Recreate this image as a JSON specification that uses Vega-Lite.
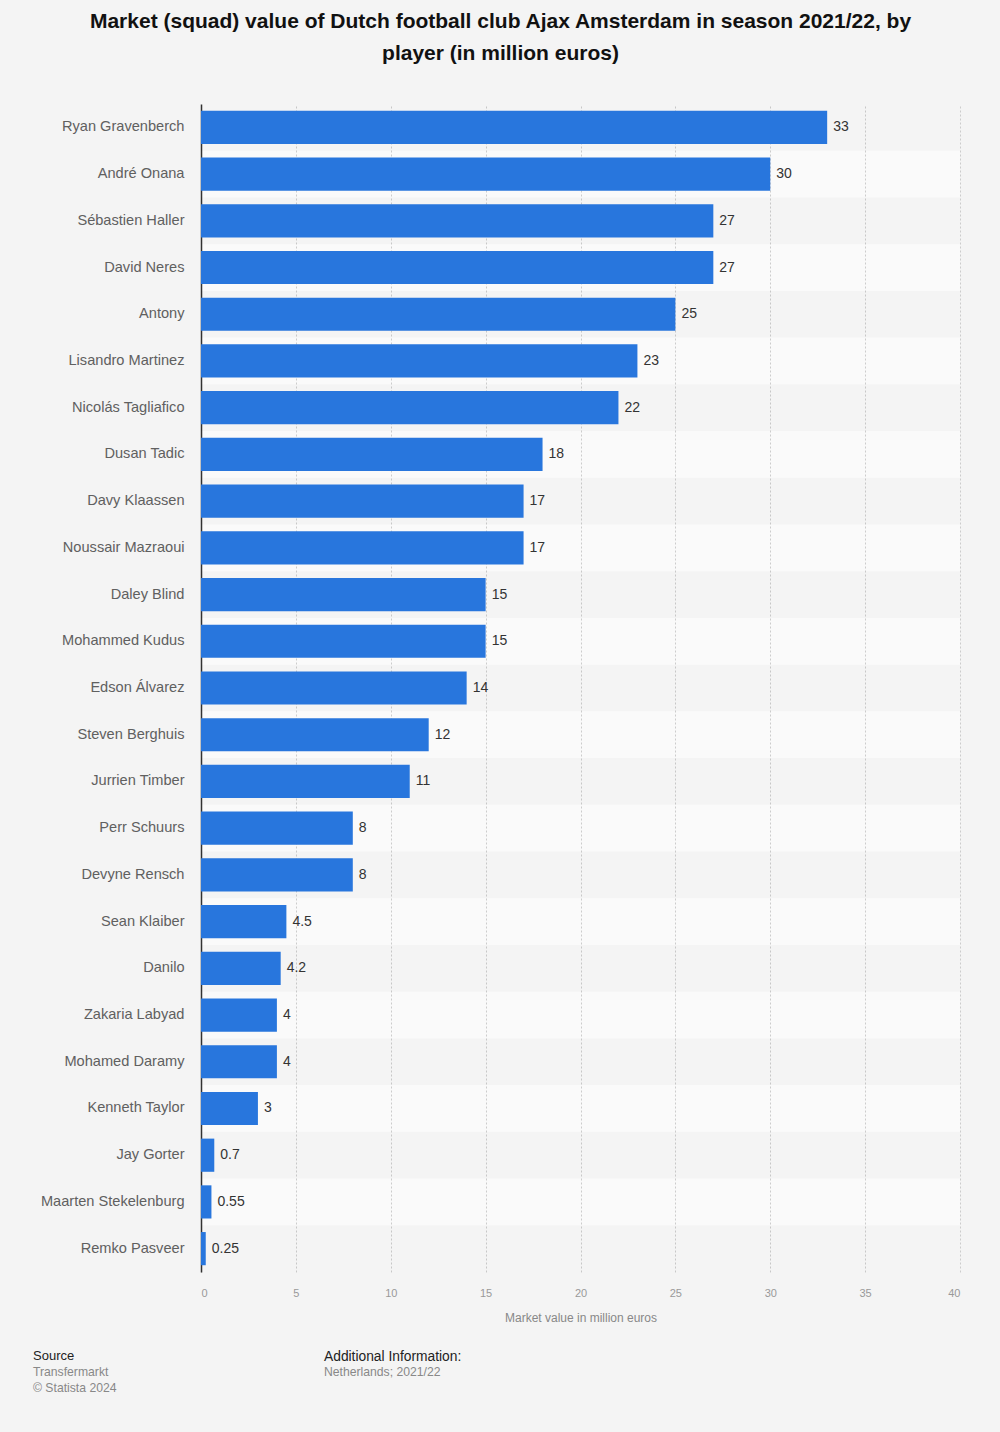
{
  "$schema": "https://vega.github.io/schema/vega-lite/v6.json",
  "background": "#f4f4f4",
  "padding": {"left": 33, "right": 40, "top": 11, "bottom": 35},
  "config": {"font": "Liberation Sans", "view": {"stroke": null}},
  "datasets": {
    "players": [
      {"player": "Ryan Gravenberch", "value": 33},
      {"player": "André Onana", "value": 30},
      {"player": "Sébastien Haller", "value": 27},
      {"player": "David Neres", "value": 27},
      {"player": "Antony", "value": 25},
      {"player": "Lisandro Martinez", "value": 23},
      {"player": "Nicolás Tagliafico", "value": 22},
      {"player": "Dusan Tadic", "value": 18},
      {"player": "Davy Klaassen", "value": 17},
      {"player": "Noussair Mazraoui", "value": 17},
      {"player": "Daley Blind", "value": 15},
      {"player": "Mohammed Kudus", "value": 15},
      {"player": "Edson Álvarez", "value": 14},
      {"player": "Steven Berghuis", "value": 12},
      {"player": "Jurrien Timber", "value": 11},
      {"player": "Perr Schuurs", "value": 8},
      {"player": "Devyne Rensch", "value": 8},
      {"player": "Sean Klaiber", "value": 4.5},
      {"player": "Danilo", "value": 4.2},
      {"player": "Zakaria Labyad", "value": 4},
      {"player": "Mohamed Daramy", "value": 4},
      {"player": "Kenneth Taylor", "value": 3},
      {"player": "Jay Gorter", "value": 0.7},
      {"player": "Maarten Stekelenburg", "value": 0.55},
      {"player": "Remko Pasveer", "value": 0.25}
    ]
  },
  "vconcat": [
    {
      "width": 759,
      "height": 1168,
      "view": {"fill": "#fafafa", "stroke": null},
      "title": {
        "text": ["Market (squad) value of Dutch football club Ajax Amsterdam in season 2021/22, by", "player (in million euros)"],
        "anchor": "middle",
        "frame": "group",
        "dx": -80,
        "offset": 40,
        "fontSize": 21,
        "fontWeight": "bold",
        "lineHeight": 32,
        "color": "#111111"
      },
      "data": {"name": "players"},
      "encoding": {
        "y": {
          "field": "player",
          "type": "nominal",
          "sort": null,
          "scale": {"paddingInner": 0, "paddingOuter": 0},
          "axis": {
            "title": null,
            "ticks": false,
            "labelFontSize": 14.6,
            "labelColor": "#606060",
            "labelPadding": 17,
            "domainColor": "#333333",
            "domainWidth": 1.5,
            "minExtent": 168,
            "maxExtent": 168
          }
        },
        "x": {
          "field": "value",
          "type": "quantitative",
          "scale": {"domain": [0, 40], "nice": false},
          "axis": {
            "title": "Market value in million euros",
            "values": [0, 5, 10, 15, 20, 25, 30, 35, 40],
            "domain": false,
            "ticks": false,
            "labelFontSize": 11,
            "labelColor": "#999999",
            "labelPadding": 15,
            "titleFontSize": 12,
            "titleFontWeight": "normal",
            "titleColor": "#888888",
            "titlePadding": 14,
            "grid": true,
            "gridColor": "#cccccc",
            "gridDash": [2, 2],
            "gridWidth": 1
          }
        }
      },
      "layer": [
        {
          "transform": [
            {"window": [{"op": "row_number", "as": "rn"}]}
          ],
          "mark": {"type": "bar", "height": {"band": 1}, "color": "#000000"},
          "encoding": {
            "x": {"datum": 0},
            "x2": {"datum": 40},
            "opacity": {"condition": {"test": "datum.rn % 2 == 1", "value": 0.024}, "value": 0}
          }
        },
        {
          "mark": {"type": "bar", "height": {"band": 0.71}, "color": "#2876dd"}
        },
        {
          "mark": {"type": "text", "align": "left", "baseline": "middle", "dx": 6, "fontSize": 14, "color": "#333333"},
          "encoding": {"text": {"field": "value", "type": "quantitative"}}
        }
      ]
    },
    {
      "hconcat": [
        {
          "width": 113,
          "height": 1,
          "title": {
            "text": "Source",
            "subtitle": ["Transfermarkt", "© Statista 2024"],
            "anchor": "start",
            "frame": "group",
            "dx": -168,
            "fontSize": 13,
            "fontWeight": "normal",
            "color": "#222222",
            "subtitleFontSize": 12.2,
            "subtitleColor": "#888888",
            "subtitleLineHeight": 16,
            "subtitlePadding": 3
          },
          "data": {"values": [{}]},
          "mark": {"type": "text"},
          "encoding": {"text": {"value": ""}}
        },
        {
          "width": 200,
          "height": 1,
          "title": {
            "text": "Additional Information:",
            "subtitle": ["Netherlands; 2021/22", " "],
            "anchor": "start",
            "frame": "group",
            "fontSize": 13.8,
            "fontWeight": "normal",
            "color": "#222222",
            "subtitleFontSize": 12.2,
            "subtitleColor": "#888888",
            "subtitleLineHeight": 16,
            "subtitlePadding": 3
          },
          "data": {"values": [{}]},
          "mark": {"type": "text"},
          "encoding": {"text": {"value": ""}}
        }
      ],
      "spacing": 10
    }
  ],
  "spacing": 26
}
